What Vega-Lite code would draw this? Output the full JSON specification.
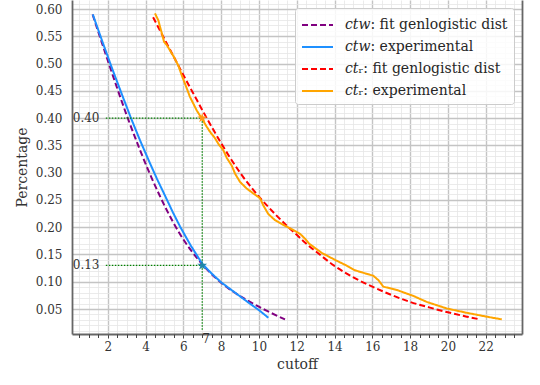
{
  "$schema": "https://vega.github.io/schema/vega-lite/v6.json",
  "width": 450,
  "height": 334,
  "autosize": {"type": "none"},
  "padding": {"left": 72, "top": 0, "right": 18, "bottom": 51},
  "background": "white",
  "config": {"view": {"stroke": null}},
  "datasets": {
    "curves": [
      {"series": "𝑐𝑡𝑤: fit genlogistic dist", "x": 1.2, "y": 0.590},
      {"series": "𝑐𝑡𝑤: fit genlogistic dist", "x": 2.0, "y": 0.506},
      {"series": "𝑐𝑡𝑤: fit genlogistic dist", "x": 3.06, "y": 0.400},
      {"series": "𝑐𝑡𝑤: fit genlogistic dist", "x": 4.38, "y": 0.286},
      {"series": "𝑐𝑡𝑤: fit genlogistic dist", "x": 5.1, "y": 0.233},
      {"series": "𝑐𝑡𝑤: fit genlogistic dist", "x": 5.83, "y": 0.187},
      {"series": "𝑐𝑡𝑤: fit genlogistic dist", "x": 6.88, "y": 0.137},
      {"series": "𝑐𝑡𝑤: fit genlogistic dist", "x": 7.94, "y": 0.100},
      {"series": "𝑐𝑡𝑤: fit genlogistic dist", "x": 9.35, "y": 0.0665},
      {"series": "𝑐𝑡𝑤: fit genlogistic dist", "x": 10.4, "y": 0.047},
      {"series": "𝑐𝑡𝑤: fit genlogistic dist", "x": 11.38, "y": 0.031},
      {"series": "𝑐𝑡𝑤: experimental", "x": 1.21, "y": 0.590},
      {"series": "𝑐𝑡𝑤: experimental", "x": 1.7, "y": 0.542},
      {"series": "𝑐𝑡𝑤: experimental", "x": 2.2, "y": 0.494},
      {"series": "𝑐𝑡𝑤: experimental", "x": 2.7, "y": 0.448},
      {"series": "𝑐𝑡𝑤: experimental", "x": 3.23, "y": 0.400},
      {"series": "𝑐𝑡𝑤: experimental", "x": 3.7, "y": 0.360},
      {"series": "𝑐𝑡𝑤: experimental", "x": 4.2, "y": 0.320},
      {"series": "𝑐𝑡𝑤: experimental", "x": 4.6, "y": 0.289},
      {"series": "𝑐𝑡𝑤: experimental", "x": 5.07, "y": 0.255},
      {"series": "𝑐𝑡𝑤: experimental", "x": 5.45, "y": 0.227},
      {"series": "𝑐𝑡𝑤: experimental", "x": 5.83, "y": 0.201},
      {"series": "𝑐𝑡𝑤: experimental", "x": 6.4, "y": 0.166},
      {"series": "𝑐𝑡𝑤: experimental", "x": 7.0, "y": 0.133},
      {"series": "𝑐𝑡𝑤: experimental", "x": 7.5, "y": 0.115},
      {"series": "𝑐𝑡𝑤: experimental", "x": 8.0, "y": 0.099},
      {"series": "𝑐𝑡𝑤: experimental", "x": 8.7, "y": 0.081},
      {"series": "𝑐𝑡𝑤: experimental", "x": 9.4, "y": 0.063},
      {"series": "𝑐𝑡𝑤: experimental", "x": 10.0, "y": 0.048},
      {"series": "𝑐𝑡𝑤: experimental", "x": 10.5, "y": 0.034},
      {"series": "𝑐𝑡ᵣ: fit genlogistic dist", "x": 4.4, "y": 0.585},
      {"series": "𝑐𝑡ᵣ: fit genlogistic dist", "x": 5.0, "y": 0.545},
      {"series": "𝑐𝑡ᵣ: fit genlogistic dist", "x": 5.5, "y": 0.512},
      {"series": "𝑐𝑡ᵣ: fit genlogistic dist", "x": 6.0, "y": 0.479},
      {"series": "𝑐𝑡ᵣ: fit genlogistic dist", "x": 6.5, "y": 0.447},
      {"series": "𝑐𝑡ᵣ: fit genlogistic dist", "x": 7.0, "y": 0.415},
      {"series": "𝑐𝑡ᵣ: fit genlogistic dist", "x": 7.5, "y": 0.384},
      {"series": "𝑐𝑡ᵣ: fit genlogistic dist", "x": 8.0, "y": 0.354},
      {"series": "𝑐𝑡ᵣ: fit genlogistic dist", "x": 8.5, "y": 0.326},
      {"series": "𝑐𝑡ᵣ: fit genlogistic dist", "x": 9.0, "y": 0.300},
      {"series": "𝑐𝑡ᵣ: fit genlogistic dist", "x": 9.5, "y": 0.277},
      {"series": "𝑐𝑡ᵣ: fit genlogistic dist", "x": 10.0, "y": 0.256},
      {"series": "𝑐𝑡ᵣ: fit genlogistic dist", "x": 10.5, "y": 0.237},
      {"series": "𝑐𝑡ᵣ: fit genlogistic dist", "x": 11.0, "y": 0.219},
      {"series": "𝑐𝑡ᵣ: fit genlogistic dist", "x": 11.5, "y": 0.202},
      {"series": "𝑐𝑡ᵣ: fit genlogistic dist", "x": 12.0, "y": 0.186},
      {"series": "𝑐𝑡ᵣ: fit genlogistic dist", "x": 12.5, "y": 0.170},
      {"series": "𝑐𝑡ᵣ: fit genlogistic dist", "x": 13.0, "y": 0.156},
      {"series": "𝑐𝑡ᵣ: fit genlogistic dist", "x": 14.0, "y": 0.129},
      {"series": "𝑐𝑡ᵣ: fit genlogistic dist", "x": 15.0, "y": 0.108},
      {"series": "𝑐𝑡ᵣ: fit genlogistic dist", "x": 16.0, "y": 0.091},
      {"series": "𝑐𝑡ᵣ: fit genlogistic dist", "x": 17.0, "y": 0.076},
      {"series": "𝑐𝑡ᵣ: fit genlogistic dist", "x": 18.0, "y": 0.063},
      {"series": "𝑐𝑡ᵣ: fit genlogistic dist", "x": 19.0, "y": 0.053},
      {"series": "𝑐𝑡ᵣ: fit genlogistic dist", "x": 20.0, "y": 0.044},
      {"series": "𝑐𝑡ᵣ: fit genlogistic dist", "x": 21.0, "y": 0.036},
      {"series": "𝑐𝑡ᵣ: fit genlogistic dist", "x": 21.7, "y": 0.031},
      {"series": "𝑐𝑡ᵣ: experimental", "x": 4.50, "y": 0.592},
      {"series": "𝑐𝑡ᵣ: experimental", "x": 4.68, "y": 0.579},
      {"series": "𝑐𝑡ᵣ: experimental", "x": 4.77, "y": 0.567},
      {"series": "𝑐𝑡ᵣ: experimental", "x": 4.86, "y": 0.556},
      {"series": "𝑐𝑡ᵣ: experimental", "x": 4.98, "y": 0.540},
      {"series": "𝑐𝑡ᵣ: experimental", "x": 5.12, "y": 0.534},
      {"series": "𝑐𝑡ᵣ: experimental", "x": 5.21, "y": 0.529},
      {"series": "𝑐𝑡ᵣ: experimental", "x": 5.47, "y": 0.514},
      {"series": "𝑐𝑡ᵣ: experimental", "x": 5.74, "y": 0.496},
      {"series": "𝑐𝑡ᵣ: experimental", "x": 5.91, "y": 0.479},
      {"series": "𝑐𝑡ᵣ: experimental", "x": 6.09, "y": 0.463},
      {"series": "𝑐𝑡ᵣ: experimental", "x": 6.35, "y": 0.439},
      {"series": "𝑐𝑡ᵣ: experimental", "x": 6.71, "y": 0.414},
      {"series": "𝑐𝑡ᵣ: experimental", "x": 7.00, "y": 0.398},
      {"series": "𝑐𝑡ᵣ: experimental", "x": 7.24, "y": 0.384},
      {"series": "𝑐𝑡ᵣ: experimental", "x": 7.41, "y": 0.375},
      {"series": "𝑐𝑡ᵣ: experimental", "x": 7.68, "y": 0.363},
      {"series": "𝑐𝑡ᵣ: experimental", "x": 7.85, "y": 0.353},
      {"series": "𝑐𝑡ᵣ: experimental", "x": 8.12, "y": 0.341},
      {"series": "𝑐𝑡ᵣ: experimental", "x": 8.30, "y": 0.327},
      {"series": "𝑐𝑡ᵣ: experimental", "x": 8.56, "y": 0.313},
      {"series": "𝑐𝑡ᵣ: experimental", "x": 8.74, "y": 0.298},
      {"series": "𝑐𝑡ᵣ: experimental", "x": 9.00, "y": 0.283},
      {"series": "𝑐𝑡ᵣ: experimental", "x": 9.35, "y": 0.271},
      {"series": "𝑐𝑡ᵣ: experimental", "x": 9.70, "y": 0.262},
      {"series": "𝑐𝑡ᵣ: experimental", "x": 10.06, "y": 0.253},
      {"series": "𝑐𝑡ᵣ: experimental", "x": 10.23, "y": 0.240},
      {"series": "𝑐𝑡ᵣ: experimental", "x": 10.5, "y": 0.224},
      {"series": "𝑐𝑡ᵣ: experimental", "x": 10.85, "y": 0.213},
      {"series": "𝑐𝑡ᵣ: experimental", "x": 11.3, "y": 0.204},
      {"series": "𝑐𝑡ᵣ: experimental", "x": 11.7, "y": 0.197},
      {"series": "𝑐𝑡ᵣ: experimental", "x": 12.17, "y": 0.188},
      {"series": "𝑐𝑡ᵣ: experimental", "x": 12.44, "y": 0.179},
      {"series": "𝑐𝑡ᵣ: experimental", "x": 12.65, "y": 0.170},
      {"series": "𝑐𝑡ᵣ: experimental", "x": 13.32, "y": 0.153},
      {"series": "𝑐𝑡ᵣ: experimental", "x": 14.03, "y": 0.140},
      {"series": "𝑐𝑡ᵣ: experimental", "x": 14.56, "y": 0.131},
      {"series": "𝑐𝑡ᵣ: experimental", "x": 15.08, "y": 0.121},
      {"series": "𝑐𝑡ᵣ: experimental", "x": 16.05, "y": 0.111},
      {"series": "𝑐𝑡ᵣ: experimental", "x": 16.32, "y": 0.103},
      {"series": "𝑐𝑡ᵣ: experimental", "x": 16.58, "y": 0.091},
      {"series": "𝑐𝑡ᵣ: experimental", "x": 17.29, "y": 0.085},
      {"series": "𝑐𝑡ᵣ: experimental", "x": 18.17, "y": 0.074},
      {"series": "𝑐𝑡ᵣ: experimental", "x": 18.88, "y": 0.063},
      {"series": "𝑐𝑡ᵣ: experimental", "x": 19.94, "y": 0.051},
      {"series": "𝑐𝑡ᵣ: experimental", "x": 21.0, "y": 0.043},
      {"series": "𝑐𝑡ᵣ: experimental", "x": 22.05, "y": 0.036},
      {"series": "𝑐𝑡ᵣ: experimental", "x": 22.85, "y": 0.031}
    ],
    "guides": [
      {"x": 1.9, "x2": 7, "y": 0.40, "y2": 0.40},
      {"x": 1.9, "x2": 7, "y": 0.13, "y2": 0.13},
      {"x": 7, "x2": 7, "y": 0.012, "y2": 0.40}
    ],
    "labels": [
      {"x": 0.15, "y": 0.40, "text": "0.40"},
      {"x": 0.15, "y": 0.13, "text": "0.13"},
      {"x": 7, "y": -0.0055, "text": "7"}
    ]
  },
  "resolve": {"axis": {"x": "independent", "y": "independent"}},
  "layer": [
    {
      "data": {"name": "curves"},
      "transform": [{"filter": "indexof(datum.series, 'fit') >= 0"}],
      "mark": {"type": "line", "strokeWidth": 2, "interpolate": "monotone"},
      "encoding": {
        "x": {
          "field": "x", "type": "quantitative",
          "scale": {"domain": [0.11, 23.92], "nice": false, "zero": false},
          "axis": {
            "orient": "bottom",
            "values": [2, 4, 6, 8, 10, 12, 14, 16, 18, 20, 22],
            "title": "cutoff",
            "grid": true,
            "gridColor": "#c4c4c4",
            "gridWidth": 1.4,
            "ticks": true, "tickSize": 4, "tickColor": "#444", "tickWidth": 1,
            "domain": true, "domainColor": "#666", "domainWidth": 1.8,
            "labelFont": "DejaVu Serif", "labelFontSize": 12, "labelColor": "#333",
            "labelPadding": 3,
            "titleFont": "DejaVu Serif", "titleFontSize": 14, "titleFontWeight": "normal",
            "titleColor": "#333", "titlePadding": 5
          }
        },
        "y": {
          "field": "y", "type": "quantitative",
          "scale": {"domain": [0.0042, 0.6165], "nice": false, "zero": false},
          "axis": {
            "orient": "left",
            "values": [0.05, 0.1, 0.15, 0.2, 0.25, 0.3, 0.35, 0.4, 0.45, 0.5, 0.55, 0.6],
            "format": ".2f",
            "title": "Percentage",
            "grid": true, "gridColor": "#c4c4c4", "gridWidth": 1.4,
            "ticks": false, "tickSize": 0,
            "domain": true, "domainColor": "#666", "domainWidth": 1.8,
            "labelFont": "DejaVu Serif", "labelFontSize": 12, "labelColor": "#333",
            "labelPadding": 10,
            "titleFont": "DejaVu Serif", "titleFontSize": 14, "titleFontWeight": "normal",
            "titleColor": "#333", "titlePadding": 6
          }
        },
        "color": {
          "field": "series", "type": "nominal",
          "scale": {
            "domain": ["𝑐𝑡𝑤: fit genlogistic dist", "𝑐𝑡𝑤: experimental", "𝑐𝑡ᵣ: fit genlogistic dist", "𝑐𝑡ᵣ: experimental"],
            "range": ["#800080", "#1e90ff", "#ff0000", "#ffa500"]
          },
          "legend": {
            "title": null, "orient": "top-right", "offset": 8,
            "symbolType": "M-1,0H2.1", "symbolSize": 400, "symbolStrokeWidth": 2,
            "labelFont": "DejaVu Serif", "labelFontSize": 14, "labelColor": "#262626",
            "labelOffset": 22, "labelLimit": 400, "padding": 6, "rowPadding": 4,
            "fillColor": "rgba(255,255,255,0.85)", "strokeColor": "#cccccc", "cornerRadius": 3
          }
        },
        "strokeDash": {
          "field": "series", "type": "nominal",
          "scale": {
            "domain": ["𝑐𝑡𝑤: fit genlogistic dist", "𝑐𝑡𝑤: experimental", "𝑐𝑡ᵣ: fit genlogistic dist", "𝑐𝑡ᵣ: experimental"],
            "range": [[6, 3], [1, 0], [6, 3], [1, 0]]
          }
        }
      }
    },
    {
      "data": {"name": "curves"},
      "transform": [{"filter": "indexof(datum.series, 'fit') < 0"}],
      "mark": {"type": "line", "strokeWidth": 2, "interpolate": "linear"},
      "encoding": {
        "x": {"field": "x", "type": "quantitative", "axis": null},
        "y": {"field": "y", "type": "quantitative", "axis": null},
        "color": {"field": "series", "type": "nominal"},
        "strokeDash": {"field": "series", "type": "nominal"}
      }
    },
    {
      "data": {"name": "guides"},
      "mark": {"type": "rule", "color": "#008000", "strokeWidth": 1.2, "strokeDash": [1.5, 1.5]},
      "encoding": {
        "x": {
          "field": "x", "type": "quantitative",
          "scale": {"domain": [0.11, 23.92], "nice": false, "zero": false},
          "axis": {
            "orient": "bottom",
            "values": [0.5, 1, 1.5, 2.5, 3, 3.5, 4.5, 5, 5.5, 6.5, 7, 7.5, 8.5, 9, 9.5, 10.5, 11, 11.5, 12.5, 13, 13.5, 14.5, 15, 15.5, 16.5, 17, 17.5, 18.5, 19, 19.5, 20.5, 21, 21.5, 22.5, 23, 23.5],
            "title": null, "labels": false,
            "grid": true, "gridColor": "#e6e6e6", "gridWidth": 0.8,
            "ticks": true, "tickSize": 3.5, "tickColor": "#444", "tickWidth": 1,
            "domain": false
          }
        },
        "x2": {"field": "x2"},
        "y": {
          "field": "y", "type": "quantitative",
          "scale": {"domain": [0.0042, 0.6165], "nice": false, "zero": false},
          "axis": {
            "orient": "right",
            "values": [0.01, 0.02, 0.03, 0.04, 0.06, 0.07, 0.08, 0.09, 0.11, 0.12, 0.13, 0.14, 0.16, 0.17, 0.18, 0.19, 0.21, 0.22, 0.23, 0.24, 0.26, 0.27, 0.28, 0.29, 0.31, 0.32, 0.33, 0.34, 0.36, 0.37, 0.38, 0.39, 0.41, 0.42, 0.43, 0.44, 0.46, 0.47, 0.48, 0.49, 0.51, 0.52, 0.53, 0.54, 0.56, 0.57, 0.58, 0.59, 0.61],
            "title": null, "labels": false,
            "grid": true, "gridColor": "#e6e6e6", "gridWidth": 0.8,
            "ticks": false, "tickSize": 0,
            "domain": true, "domainColor": "#666", "domainWidth": 1.8
          }
        },
        "y2": {"field": "y2"}
      }
    },
    {
      "data": {"values": [{"x": 7, "y": 0.40}]},
      "mark": {"type": "point", "shape": "M0,-1L0.225,-0.309L0.951,-0.309L0.363,0.118L0.588,0.809L0,0.382L-0.588,0.809L-0.363,0.118L-0.951,-0.309L-0.225,-0.309Z", "filled": true, "color": "#ff9a1a", "size": 110, "opacity": 1},
      "encoding": {
        "x": {"field": "x", "type": "quantitative", "axis": null},
        "y": {"field": "y", "type": "quantitative", "axis": null}
      }
    },
    {
      "data": {"values": [{"x": 7, "y": 0.13}]},
      "mark": {"type": "point", "shape": "M0,-1L0.225,-0.309L0.951,-0.309L0.363,0.118L0.588,0.809L0,0.382L-0.588,0.809L-0.363,0.118L-0.951,-0.309L-0.225,-0.309Z", "filled": true, "color": "#1f86a8", "size": 110, "opacity": 1},
      "encoding": {
        "x": {"field": "x", "type": "quantitative", "axis": null},
        "y": {"field": "y", "type": "quantitative", "axis": null}
      }
    },
    {
      "data": {"name": "labels"},
      "mark": {"type": "text", "align": "left", "baseline": "middle", "font": "DejaVu Serif", "fontSize": 12, "color": "#333"},
      "encoding": {
        "x": {"field": "x", "type": "quantitative", "axis": null},
        "y": {"field": "y", "type": "quantitative", "axis": null},
        "text": {"field": "text"}
      }
    }
  ]
}
